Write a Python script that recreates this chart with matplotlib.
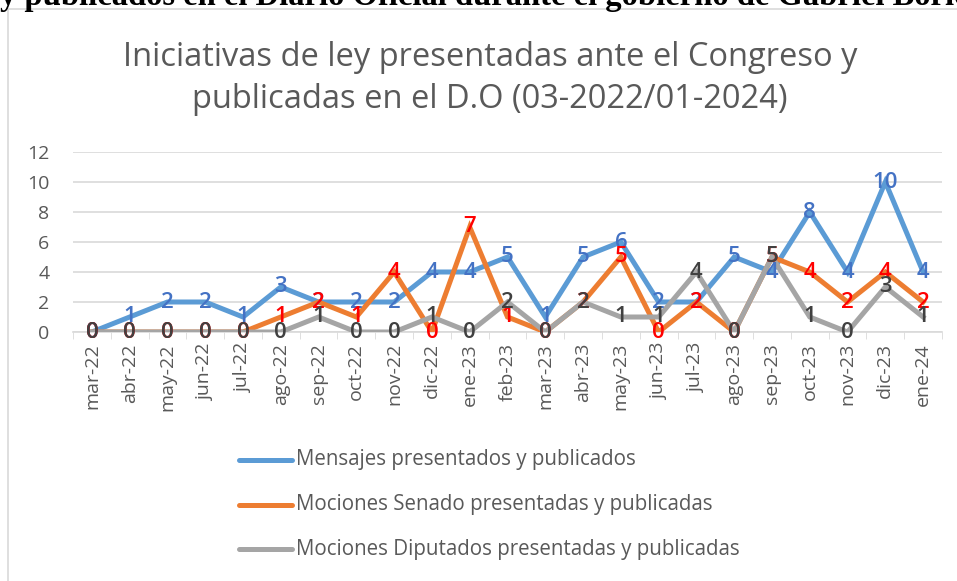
import matplotlib.pyplot as plt
from matplotlib.lines import Line2D
from matplotlib.patches import Rectangle

months = ["mar-22", "abr-22", "may-22", "jun-22", "jul-22", "ago-22", "sep-22",
          "oct-22", "nov-22", "dic-22", "ene-23", "feb-23", "mar-23", "abr-23",
          "may-23", "jun-23", "jul-23", "ago-23", "sep-23", "oct-23", "nov-23",
          "dic-23", "ene-24"]
mensajes = [0, 1, 2, 2, 1, 3, 2, 2, 2, 4, 4, 5, 1, 5, 6, 2, 2, 5, 4, 8, 4, 10, 4]
senado = [0, 0, 0, 0, 0, 1, 2, 1, 4, 0, 7, 1, 0, 2, 5, 0, 2, 0, 5, 4, 2, 4, 2]
diputados = [0, 0, 0, 0, 0, 0, 1, 0, 0, 1, 0, 2, 0, 2, 1, 1, 4, 0, 5, 1, 0, 3, 1]

series = [
    ("Mensajes presentados y publicados", mensajes, "#5B9BD5", "#4472C4"),
    ("Mociones Senado presentadas y publicadas", senado, "#ED7D31", "#FF0000"),
    ("Mociones Diputados presentadas y publicadas", diputados, "#A5A5A5", "#404040"),
]

W, H = 957, 581
FONT = "Open Sans"
fig = plt.figure(figsize=(W / 100, H / 100), dpi=100)

# cropped heading from the surrounding document (only its lower part is visible)
fig.text(0.0, 1 - 5 / H, "y publicados en el Diario Oficial durante el gobierno de Gabriel Boric",
         family="Liberation Serif", fontweight="bold", fontsize=23.5, va="baseline", ha="left")

# chart frame
fig.patches.append(Rectangle((8 / W, -0.01), 1.0, 1 - 9 / H + 0.01, transform=fig.transFigure,
                             fill=False, edgecolor="#D9D9D9", linewidth=1.2))

fig.text(0.512, 1 - 57 / H, "Iniciativas de ley presentadas ante el Congreso y",
         family=FONT, fontsize=23.5, color="#595959", ha="center", va="center")
fig.text(0.512, 1 - 100 / H, "publicadas en el D.O (03-2022/01-2024)",
         family=FONT, fontsize=23.5, color="#595959", ha="center", va="center")

ax = fig.add_axes([73 / W, 1 - 332 / H, 869 / W, 180 / H])
x = list(range(len(months)))

for name, vals, col, lcol in series:
    ax.plot(x, vals, color=col, linewidth=3.6, solid_joinstyle="miter", zorder=3)
for name, vals, col, lcol in series:
    for xi, v in zip(x, vals):
        ax.text(xi, v, str(v), color=lcol, fontsize=16, fontweight="semibold",
                ha="center", va="center", family=FONT, zorder=5)

ax.set_xlim(-0.5, len(months) - 0.5)
ax.set_ylim(0, 12)
ax.set_yticks(range(0, 13, 2))
ax.set_xticks(x)
ax.set_xticklabels(months, rotation=90, fontsize=14, color="#595959", family=FONT)
ax.tick_params(axis="x", length=0, pad=8)
ax.tick_params(axis="y", length=0, labelsize=14, colors="#595959", pad=17)
for lab in ax.get_yticklabels():
    lab.set_family(FONT)
ax.set_xticks([i + 0.5 for i in range(-1, len(months))], minor=True)
ax.tick_params(axis="x", which="minor", length=5, color="#D9D9D9", direction="out")
ax.grid(axis="y", color="#D9D9D9", linewidth=1.2)
ax.set_axisbelow(True)
for s in ["top", "right", "left"]:
    ax.spines[s].set_visible(False)
ax.spines["bottom"].set_color("#D9D9D9")
ax.spines["bottom"].set_linewidth(1.2)

# legend
for i, (name, vals, col, lcol) in enumerate(series):
    yy = 1 - (460 + 44.5 * i) / H
    fig.add_artist(Line2D([239 / W, 292 / W], [yy, yy], color=col, linewidth=3.6,
                          solid_capstyle="round", transform=fig.transFigure))
    fig.text(296 / W, yy, name, fontsize=14.8, color="#595959", family=FONT,
             ha="left", va="center")

fig.savefig("out.png", dpi=100)
